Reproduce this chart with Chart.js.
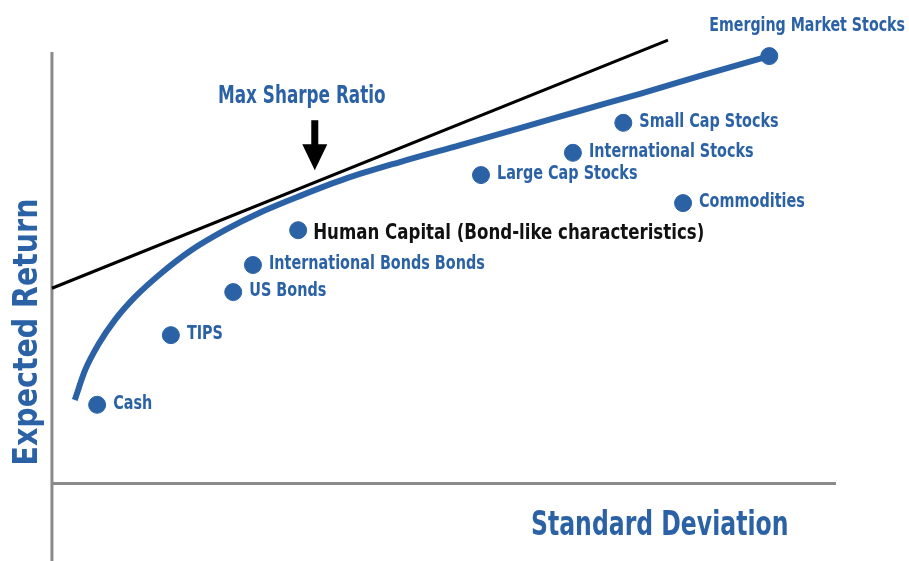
<!DOCTYPE html>
<html>
<head>
<meta charset="utf-8">
<title>Efficient Frontier</title>
<script src="https://cdn.jsdelivr.net/npm/chart.js@4.4.1/dist/chart.umd.min.js"></script>
<style>
  html, body { margin: 0; padding: 0; background: #fff; }
  #frontier { display: block; }
</style>
</head>
<body>
<canvas id="frontier" width="909" height="561"></canvas>
<script>
// Asset classes (risk = standard deviation, return = expected return, arbitrary units)
const assetNames = ['Cash', 'TIPS', 'US Bonds', 'International Bonds Bonds',
    'Human Capital (Bond-like characteristics)', 'Large Cap Stocks',
    'International Stocks', 'Small Cap Stocks', 'Commodities', 'Emerging Market Stocks'];
const assetRisk   = [0.87, 2.29, 3.49, 3.87, 4.74, 8.26, 10.03, 11.00, 12.15, 13.81];
const assetReturn = [1.63, 3.07, 3.96, 4.52, 5.24, 6.38, 6.84, 7.46, 5.80, 8.84];

// Efficient frontier curve
const frontierRisk   = [0.44, 0.64, 0.89, 1.21, 1.60, 2.08, 2.66, 3.33, 4.04,
                        4.78, 5.64, 6.70, 7.86, 9.01, 10.17, 11.32, 12.48, 13.81];
const frontierReturn = [1.73, 2.35, 2.87, 3.38, 3.86, 4.33, 4.81, 5.24, 5.62,
                        5.95, 6.30, 6.65, 7.00, 7.35, 7.71, 8.06, 8.43, 8.84];

// Capital market line (tangent at max Sharpe ratio)
const cmlRisk   = [0, 11.86];
const cmlReturn = [4.04, 9.17];

// Where the "Max Sharpe Ratio" arrow points
const maxSharpe = { risk: 5.06, ret: 6.48 };

const BLUE = '#2b62a6';
const FONT = '"DejaVu Sans Condensed", "DejaVu Sans", sans-serif';

const toPoints = (xs, ys) => xs.map((x, i) => ({ x: x, y: ys[i] }));

// text squeezed horizontally to look like a condensed face
function narrowText(ctx, text, x, y, align, squeeze) {
    ctx.save();
    ctx.translate(x, y);
    ctx.scale(squeeze, 1);
    ctx.textAlign = align;
    ctx.fillText(text, 0, 0);
    ctx.restore();
}

// Axes, arrow and all the text are painted by hand
const decorPlugin = {
    id: 'decor',
    beforeDatasetsDraw(chart) {
        const ctx = chart.ctx;
        const xs = chart.scales.x, ys = chart.scales.y;
        const x0 = xs.getPixelForValue(0);
        const y0 = ys.getPixelForValue(0);
        ctx.save();
        ctx.strokeStyle = '#8a8a8a';
        ctx.lineWidth = 3;
        ctx.beginPath();
        ctx.moveTo(x0, 52);
        ctx.lineTo(x0, chart.height);
        ctx.moveTo(x0, y0);
        ctx.lineTo(836, y0);
        ctx.stroke();
        ctx.restore();
    },
    afterDatasetsDraw(chart) {
        const ctx = chart.ctx;
        const xs = chart.scales.x, ys = chart.scales.y;
        ctx.save();

        // point labels
        ctx.textBaseline = 'middle';
        assetNames.forEach((name, i) => {
            const px = xs.getPixelForValue(assetRisk[i]);
            const py = ys.getPixelForValue(assetReturn[i]);
            ctx.font = 'bold 20px ' + FONT;
            ctx.fillStyle = BLUE;
            if (i === assetNames.length - 1) {
                narrowText(ctx, name, chart.width - 4, py - 30, 'right', 0.79);
            } else if (name.startsWith('Human')) {
                ctx.fillStyle = '#111';
                ctx.font = 'bold 22px ' + FONT;
                narrowText(ctx, name, px + 15, py + 3, 'left', 0.84);
            } else {
                narrowText(ctx, name, px + 16, py - 1, 'left', 0.8);
            }
        });

        // arrow towards the tangent point
        const ax = xs.getPixelForValue(maxSharpe.risk);
        const tip = ys.getPixelForValue(maxSharpe.ret);
        ctx.fillStyle = '#000';
        ctx.fillRect(ax - 3.5, tip - 50, 7, 26);
        ctx.beginPath();
        ctx.moveTo(ax - 12.5, tip - 26);
        ctx.lineTo(ax + 12.5, tip - 26);
        ctx.lineTo(ax, tip);
        ctx.closePath();
        ctx.fill();

        ctx.fillStyle = BLUE;
        ctx.font = 'bold 24px ' + FONT;
        narrowText(ctx, 'Max Sharpe Ratio', ax - 13, tip - 73, 'center', 0.78);

        // axis titles
        ctx.font = 'bold 34px ' + FONT;
        narrowText(ctx, 'Standard Deviation', 531, 526, 'left', 0.77);

        ctx.translate(28, 332);
        ctx.rotate(-Math.PI / 2);
        ctx.font = 'bold 34px ' + FONT;
        narrowText(ctx, 'Expected Return', 0, 0, 'center', 0.93);
        ctx.restore();
    }
};

const ctx = document.getElementById('frontier').getContext('2d');
const frontierChart = new Chart(ctx, {
    type: 'scatter',
    data: {
        datasets: [{
            label: 'Assets',
            data: toPoints(assetRisk, assetReturn),
            backgroundColor: BLUE,
            borderColor: BLUE,
            pointRadius: 8.5,
            pointHoverRadius: 8.5,
            order: 0
        },
        {
            label: 'Efficient frontier',
            data: toPoints(frontierRisk, frontierReturn),
            showLine: true,
            borderColor: BLUE,
            borderWidth: 6,
            pointRadius: 0,
            cubicInterpolationMode: 'monotone',
            borderCapStyle: 'butt',
            order: 1
        },
        {
            label: 'Capital market line',
            data: toPoints(cmlRisk, cmlReturn),
            showLine: true,
            borderColor: '#000',
            borderWidth: 3,
            pointRadius: 0,
            order: 2
        }]
    },
    options: {
        responsive: false,
        animation: false,
        devicePixelRatio: 1,
        layout: { padding: 0, autoPadding: false },
        plugins: {
            legend: { display: false },
            tooltip: { enabled: false }
        },
        scales: {
            x: { type: 'linear', min: -1, max: 16.5, display: false },
            y: { type: 'linear', min: -1.6, max: 10, display: false }
        }
    },
    plugins: [decorPlugin]
});
</script>
</body>
</html>
